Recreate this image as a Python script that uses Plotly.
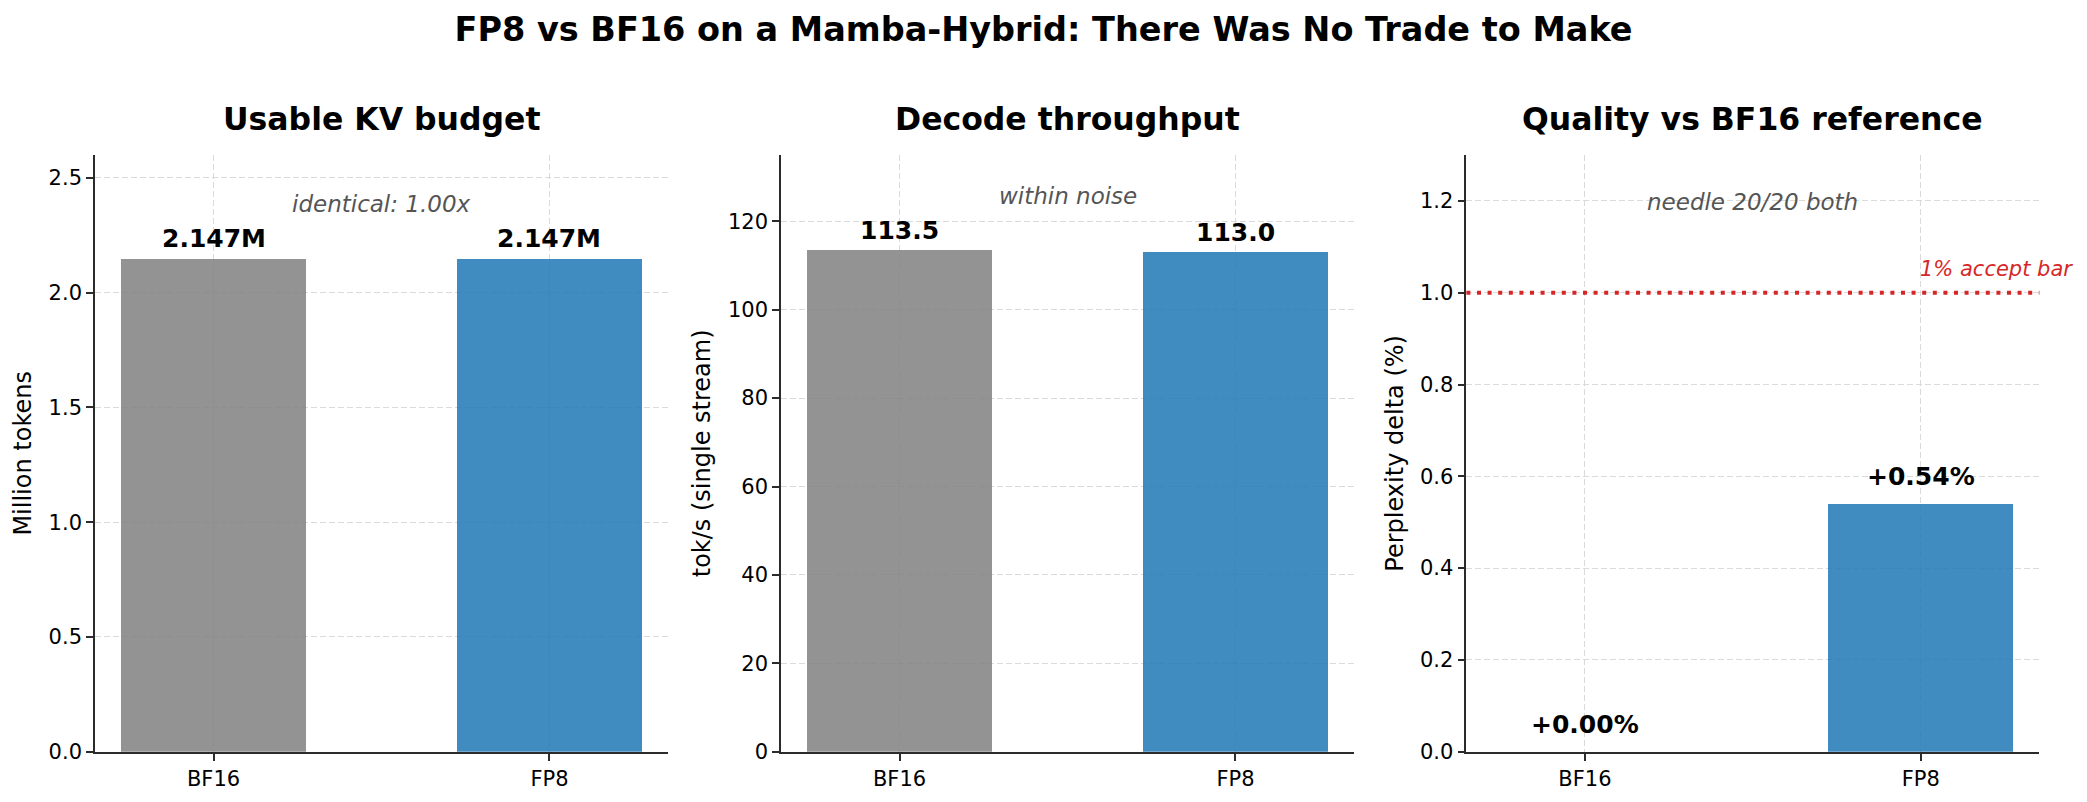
import plotly.graph_objects as go
from plotly.subplots import make_subplots

# --- Data ---
precisions = ["BF16", "FP8"]
kv_budget_m = [2.147, 2.147]          # million tokens
decode_tok_s = [113.5, 113.0]         # tok/s, single stream
ppl_delta_pct = [0.00, 0.54]          # perplexity delta vs BF16 (%)

kv_labels = ["2.147M", "2.147M"]
tok_labels = ["113.5", "113.0"]
ppl_labels = ["+0.00%", "+0.54%"]

accept_bar_pct = 1.0

panel_titles = ["Usable KV budget", "Decode throughput", "Quality vs BF16 reference"]
y_titles = ["Million tokens", "tok/s (single stream)", "Perplexity delta (%)"]
notes = ["identical: 1.00x", "within noise", "needle 20/20 both"]
note_y = [2.385, 125.8, 1.198]
y_max = [2.6, 135, 1.3]
y_dtick = [0.5, 20, 0.2]
y_fmt = [".1f", "d", ".1f"]

# --- Styling ---
FONT = "DejaVu Sans"
BAR_COLORS = ["rgba(128,128,128,0.85)", "rgba(31,119,180,0.85)"]
GRID = "#dadada"
SPINE = "#2b2b2b"
RED = "#d62728"

# the page body keeps its default 8px margin, so size the figure to fit inside it
W, H, PAGE_MARGIN = 2071, 786, 8


def px_x(x):
    return (x - PAGE_MARGIN) / W


def px_y(y):
    return 1 - (y - PAGE_MARGIN) / H


panel_left = [95, 781, 1466.4]
panel_width = 573
x_domains = [[px_x(l), px_x(l + panel_width)] for l in panel_left]
y_domain = [px_y(751.7), px_y(155)]

fig = make_subplots(rows=1, cols=3)

series = [kv_budget_m, decode_tok_s, ppl_delta_pct]
labels = [kv_labels, tok_labels, ppl_labels]
label_shift = [20, 20, 27]

for i in range(3):
    col = i + 1
    xref = f"x{col}" if col > 1 else "x"
    yref = f"y{col}" if col > 1 else "y"
    fig.add_trace(
        go.Bar(
            x=precisions,
            y=series[i],
            width=0.55,
            marker=dict(color=BAR_COLORS, line=dict(width=0)),
            showlegend=False,
            hoverinfo="skip",
        ),
        row=1, col=col,
    )

    # value labels above each bar
    for cat, val, txt in zip(precisions, series[i], labels[i]):
        fig.add_annotation(
            x=cat, y=val, text=f"<b>{txt}</b>", xref=xref, yref=yref,
            showarrow=False, xanchor="center", yanchor="middle", yshift=label_shift[i],
            font=dict(family=FONT, size=25, color="black"),
        )

    # italic note near the top of each panel
    fig.add_annotation(
        x=0.5, y=note_y[i], xref=xref, yref=yref,
        text=f"<i>{notes[i]}</i>", showarrow=False, xanchor="center", yanchor="middle",
        font=dict(family=FONT, size=23, color="#555555"),
    )

    # panel title
    fig.add_annotation(
        x=sum(x_domains[i]) / 2, y=px_y(119), xref="paper", yref="paper",
        text=f"<b>{panel_titles[i]}</b>", showarrow=False,
        xanchor="center", yanchor="middle",
        font=dict(family=FONT, size=31.5, color="black"),
    )

    fig.update_xaxes(
        domain=x_domains[i], range=[-0.353, 1.353],
        showline=True, linecolor=SPINE, linewidth=1.6,
        ticks="outside", ticklen=7, tickwidth=1.6, tickcolor=SPINE,
        showgrid=True, gridcolor=GRID, gridwidth=1.3, griddash="6px,3px",
        tickfont=dict(family=FONT, size=21, color="black"),
        zeroline=False, automargin=False,
        row=1, col=col,
    )
    fig.update_yaxes(
        domain=y_domain, range=[0, y_max[i]], dtick=y_dtick[i], tick0=0,
        tickformat=y_fmt[i],
        showline=True, linecolor=SPINE, linewidth=1.6,
        ticks="outside", ticklen=7, tickwidth=1.6, tickcolor=SPINE,
        showgrid=True, gridcolor=GRID, gridwidth=1.3, griddash="6px,3px",
        tickfont=dict(family=FONT, size=21, color="black"),
        title=dict(text=y_titles[i], standoff=10, font=dict(family=FONT, size=24, color="black")),
        zeroline=False, automargin=False,
        row=1, col=col,
    )

# 1% acceptance threshold on the quality panel
fig.add_shape(
    type="line", xref="x3 domain", yref="y3",
    x0=0, x1=1, y0=accept_bar_pct, y1=accept_bar_pct,
    line=dict(color=RED, width=4, dash="4px,6.6px"),
)
fig.add_annotation(
    x=precisions[1], y=accept_bar_pct, xref="x3", yref="y3",
    text="<i>1% accept bar</i>", showarrow=False,
    xanchor="left", yanchor="middle", yshift=24, xshift=-3,
    font=dict(family=FONT, size=21, color=RED),
)

fig.update_layout(
    width=W,
    height=H,
    margin=dict(l=0, r=0, t=0, b=0),
    paper_bgcolor="white",
    plot_bgcolor="white",
    bargap=0,
    font=dict(family=FONT, color="black"),
    title=dict(
        text="<b>FP8 vs BF16 on a Mamba-Hybrid: There Was No Trade to Make</b>",
        x=0.5, xanchor="center", y=px_y(29.7), yanchor="middle",
        font=dict(family=FONT, size=33.5, color="black"),
    ),
)

fig.write_html("out.html")
